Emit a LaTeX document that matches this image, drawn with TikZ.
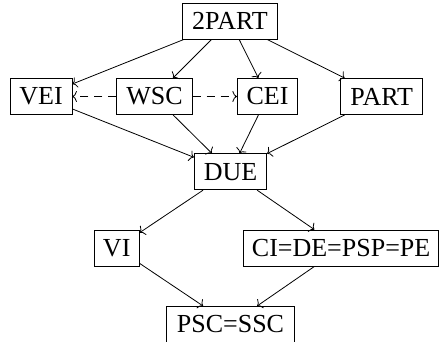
\documentclass[tikz,border=0pt]{standalone}
\usepackage{fontspec}
\setmainfont{Liberation Serif}
\usetikzlibrary{arrows.meta}
\begin{document}
\begin{tikzpicture}[x=1pt,y=1pt,
  box/.style={draw, line width=0.8pt, inner sep=0pt, minimum height=36pt,
    font=\fontsize{26}{28}\selectfont, anchor=center},
  conn/.style={line width=0.8pt, -{To[length=4.5pt,width=11pt]}},
  dconn/.style={conn, dash pattern=on 8pt off 6pt}]
\useasboundingbox (0,0) rectangle (439,341);
\node[box, minimum width=95pt] (twopart) at (230,320) {2PART};
\node[box, minimum width=62pt] (vei) at (41,244.5) {VEI};
\node[box, minimum width=75.6pt] (wsc) at (154.5,244.5) {WSC};
\node[box, minimum width=60.4pt] (cei) at (267.5,244.5) {CEI};
\node[box, minimum width=82pt] (part) at (381.7,244.5) {PART};
\node[box, minimum width=72.4pt] (due) at (230.5,169.2) {DUE};
\node[box, minimum width=45.3pt] (vi) at (116.7,93) {VI};
\node[box, minimum width=194.8pt] (ci) at (341.1,93) {CI=DE=PSP=PE};
\node[box, minimum width=127.6pt] (psc) at (230.5,16.6) {PSC=SSC};
\draw[conn] (twopart) -- (vei);
\draw[conn] (twopart) -- (wsc);
\draw[conn] (twopart) -- (cei);
\draw[conn] (twopart) -- (part);
\draw[dconn] (wsc) -- (vei);
\draw[dconn] (wsc) -- (cei);
\draw[conn] (vei) -- (due);
\draw[conn] (wsc) -- (due);
\draw[conn] (cei) -- (due);
\draw[conn] (part) -- (due);
\draw[conn] (due) -- (vi);
\draw[conn] (due) -- (ci);
\draw[conn] (vi) -- (psc);
\draw[conn] (ci) -- (psc);
\end{tikzpicture}
\end{document}
